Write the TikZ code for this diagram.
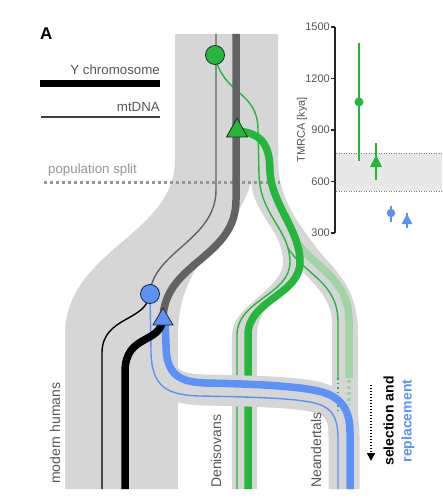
\documentclass[tikz,border=0pt]{standalone}
\usepackage{fontspec}
\setmainfont{Liberation Sans}
\usetikzlibrary{arrows.meta}
\definecolor{bandgray}{RGB}{214,214,214}
\definecolor{lgreen}{RGB}{37,182,60}
\definecolor{pgreen}{RGB}{160,212,165}
\definecolor{lblue}{RGB}{92,146,245}
\definecolor{dgray}{RGB}{98,98,98}
\definecolor{txtgray}{RGB}{85,85,85}
\definecolor{splitgray}{RGB}{150,150,150}
\definecolor{mkedge}{RGB}{30,45,40}
\definecolor{plotband}{RGB}{232,232,232}
\begin{document}
\begin{tikzpicture}[x=1pt,y=-1pt,
  thickln/.style={line width=7.5pt},
  thinln/.style={line width=1.4pt},
  lbl/.style={font=\fontsize{14}{16}\selectfont, text=txtgray, inner sep=0pt},
  legtxt/.style={font=\fontsize{13.3}{16}\selectfont, text=txtgray, inner sep=0pt},
  ticklbl/.style={font=\fontsize{11}{13}\selectfont, text=txtgray, inner sep=0pt, anchor=east},
  bigmarker/.style={circle, inner sep=0pt, minimum size=19pt, line width=0.8pt, draw=mkedge},
  pmarker/.style={circle, inner sep=0pt, minimum size=9pt},
  ebar/.style={line width=2pt}]
\useasboundingbox (0,0) rectangle (442,500);
% ---------- population bands ----------
\fill[bandgray] (175,34) -- (278,34) -- (278,160) -- (252,160) -- (252,178)
  .. controls (240,235) and (178,255) .. (178,335) -- (178,489) -- (65,489) -- (65,335)
  .. controls (65,250) and (175,235) .. (175,160) -- cycle;
\fill[bandgray] (250,150) -- (278,150) -- (278,160)
  .. controls (278,200) and (300,225) .. (318,250)
  .. controls (340,275) and (358,290) .. (358,335) -- (358,489) -- (332,489) -- (332,322)
  .. controls (332,300) and (315,285) .. (303,272)
  .. controls (285,295) and (257,305) .. (257,335) -- (257,489) -- (232,489) -- (232,335)
  .. controls (232,305) and (283,290) .. (283,262)
  .. controls (283,230) and (253,215) .. (251,180) -- cycle;
% ---------- population split ----------
\draw[splitgray, line width=3pt, dash pattern=on 3pt off 3pt] (44,182) -- (280,182);
% ---------- green lineages ----------
\draw[pgreen, thickln] (297,243) .. controls (316,268) and (349,280) .. (349,320) -- (349,378);
\draw[lgreen, thinln] (288,248) .. controls (305,275) and (338,282) .. (338,322) -- (338,378);
\draw[lgreen, thinln] (215,55) .. controls (222,95) and (258,90) .. (258,130) -- (259,175)
  .. controls (260,215) and (290,230) .. (290,262)
  .. controls (290,295) and (237,300) .. (237,335) -- (237,489);
\draw[lgreen, thickln] (237,131) .. controls (262,133) and (270,145) .. (270,172)
  .. controls (272,205) and (300,230) .. (300,262)
  .. controls (300,295) and (248,300) .. (248,335) -- (248,489);
% ---------- blue band ----------
\draw[bandgray, line width=31pt] (158,330) -- (158,348) .. controls (158,382) and (175,389) .. (203,390)
  .. controls (253,391) and (300,392) .. (320,398)
  .. controls (339,404) and (344,416) .. (344,436) -- (344,489);
\draw[lgreen, line width=1.4pt, dash pattern=on 1.5pt off 3pt] (338,378) -- (338,410);
\draw[pgreen, line width=3.5pt, dash pattern=on 3pt off 3pt] (349,380) -- (349,405);
\draw[lblue, thinln] (150,294) -- (151,350) .. controls (151,388) and (168,395) .. (200,396)
  .. controls (250,397) and (300,398) .. (318,404)
  .. controls (334,409) and (338,420) .. (338,440) -- (338,489);
\draw[lblue, thickln] (165,318) -- (166,345) .. controls (166,375) and (180,382) .. (205,383)
  .. controls (255,384) and (300,386) .. (322,392)
  .. controls (343,398) and (350,412) .. (350,432) -- (350,489);
% ---------- ancestral and modern lineages ----------
\draw[dgray, thinln] (216,34) -- (216,190) .. controls (216,240) and (152,252) .. (150,294);
\draw[dgray, thickln] (236,34) -- (236,200) .. controls (236,258) and (165,262) .. (163,318);
\draw[black, thinln] (150,294) .. controls (146,322) and (103,316) .. (102,352) -- (102,489);
\draw[black, thickln] (163,318) .. controls (161,345) and (125,333) .. (125,372) -- (125,489);
% ---------- markers ----------
\node[bigmarker, fill=lgreen] (gcirc) at (215,55) {};
\draw[fill=lgreen, draw=mkedge, line width=0.8pt, line join=round] (237,118) -- (247.5,137) -- (226.5,137) -- cycle;
\node[bigmarker, fill=lblue] (bcirc) at (150,294) {};
\draw[fill=lblue, draw=mkedge, line width=0.8pt, line join=round] (163,308) -- (173,325) -- (153,325) -- cycle;
% ---------- legend ----------
\node[font=\fontsize{17}{20}\selectfont\bfseries, anchor=base west, inner sep=0pt] (lblA) at (40,40) {A};
\node[legtxt, anchor=base east] (ychr) at (160,75) {Y chromosome};
\draw[black, line width=7pt] (40,83.5) -- (160,83.5);
\node[legtxt, anchor=base east] (mtdna) at (160,111) {mtDNA};
\draw[black!75, line width=1.5pt] (41,117) -- (160,117);
\node[legtxt, text=splitgray, anchor=base west] (popsplit) at (48,173) {population split};
% ---------- branch labels ----------
\node[lbl, rotate=90, anchor=west] (mh) at (55,484) {modern humans};
\node[lbl, rotate=90, anchor=west] (den) at (216,488) {Denisovans};
\node[lbl, rotate=90, anchor=west] (nea) at (316,488) {Neandertals};
\node[font=\fontsize{14}{18}\selectfont\bfseries, rotate=90, align=center, inner sep=0pt] (sel) at (399,421)
  {selection and\\\textcolor{lblue}{replacement}};
\draw[black, line width=1.6pt, dash pattern=on 1.4pt off 1.6pt, -{Triangle[length=8pt,width=8pt]}] (371,385) -- (371,461);
% ---------- TMRCA plot ----------
\fill[plotband] (336,153) rectangle (442,191);
\draw[gray, line width=1pt, dash pattern=on 1pt off 1.5pt] (336,153) -- (442,153);
\draw[gray, line width=1pt, dash pattern=on 1pt off 1.5pt] (336,191) -- (442,191);
\draw[black!85, line width=1.3pt] (335,27) -- (335,233);
\foreach \yy/\val in {27/1500,78.5/1200,130/900,181.5/600,233/300}{
  \draw[black!85, line width=1.3pt] (331,\yy) -- (335,\yy);
  \node[ticklbl] (t\val) at (330,\yy) {\val};
}
\node[font=\fontsize{11}{13}\selectfont, text=txtgray, rotate=90, inner sep=0pt] (ylab) at (302,130) {TMRCA [kya]};
\draw[lgreen, ebar] (359,43) -- (359,161);
\node[pmarker, fill=lgreen] (pgc) at (359,102) {};
\draw[lgreen, ebar] (376,143) -- (376,180);
\fill[lgreen] (376,155) -- (382,167) -- (370,167) -- cycle;
\draw[lblue, ebar] (391,206) -- (391,222);
\node[pmarker, fill=lblue, minimum size=8.5pt] (pbc) at (391,213) {};
\draw[lblue, ebar] (407,213) -- (407,228);
\fill[lblue] (407,214) -- (412.5,224) -- (401.5,224) -- cycle;
\end{tikzpicture}
\end{document}
